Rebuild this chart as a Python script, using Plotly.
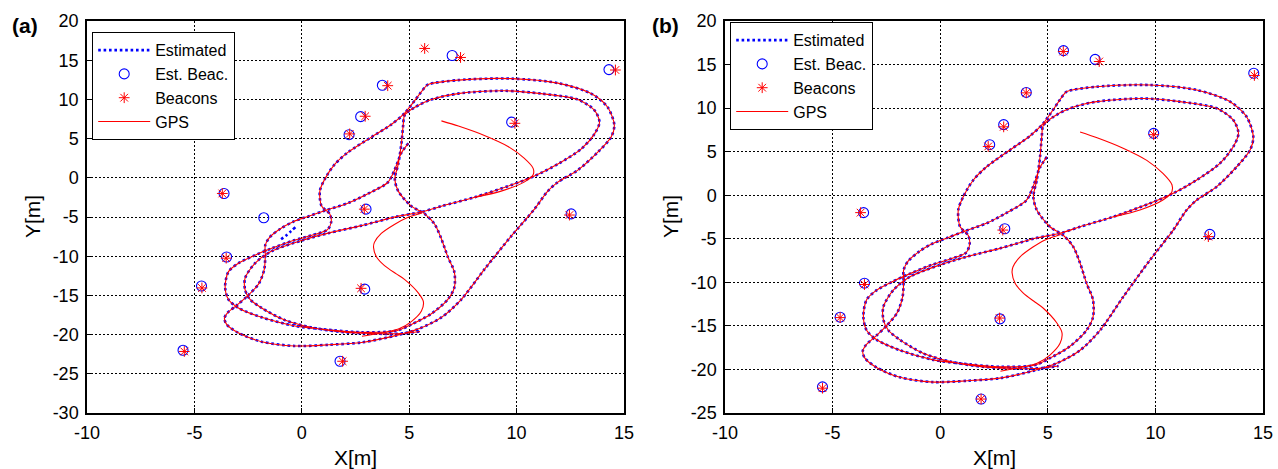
import plotly.graph_objects as go

# ---------------- data (metres) ----------------
# shared vehicle trajectory (estimated; GPS overlaps it)
path_x = [4.96, 4.64, 4.31, 4.0, 3.1, 2.17, 1.06, 0.32, -0.4, -1.0, -1.5, -1.7, -1.7, -1.75, -2.0, -2.5,
          -3.0, -3.45, -3.6, -3.5, -2.94, -1.87, -0.33, 1.25, 2.78, 4.41, 5.41, 6.5, 7.43, 8.51, 9.75,
          10.83, 11.45, 11.92, 12.85, 13.78, 14.4, 14.55, 14.24, 13.47, 11.92, 9.75, 7.27, 5.88, 5.72,
          4.79, 4.17, 3.24, 2.16, 1.54, 1.07, 0.84, 0.92, 1.3, 1.37, 1.2, 0.5, -0.4, -1.4, -2.2, -2.95,
          -3.42, -3.57, -3.42, -2.95, -1.87, -0.32, 0.92, 2.78, 4.41, 5.1, 6.0, 6.8, 7.1, 7.1, 6.8, 6.5,
          6.18, 5.72, 5.1, 4.49, 4.33, 4.49, 4.64, 4.72, 4.79, 5.26, 6.03, 7.27, 9.44, 11.14, 12.85,
          13.62, 13.86, 13.62, 13.0, 11.92, 10.83, 9.75, 8.05, 6.5, 5.57, 4.41, 2.78, 1.23, -0.01, -1.4,
          -2.18, -2.64, -2.64, -2.41, -1.87, -0.79, 0.46, 2.0, 4.41, 5.5]
path_y = [4.4, 3.2, 0.94, -0.6, -2.0, -3.2, -4.2, -4.9, -5.6, -6.5, -7.6, -8.6, -10.0, -11.7, -13.5, -15.0,
          -16.2, -17.2, -17.9, -18.7, -19.8, -20.9, -21.45, -21.3, -21.0, -20.1, -19.3, -17.8, -15.5, -11.65,
          -7.44, -4.0, -1.7, -0.55, 0.98, 3.27, 5.19, 6.72, 9.0, 10.74, 12.08, 12.65, 12.46, 11.9, 11.5,
          8.25, 6.8, 5.19, 3.27, 1.75, -0.17, -1.7, -3.6, -4.6, -5.6, -6.6, -7.3, -8.0, -9.0, -9.9, -10.9,
          -12.0, -13.9, -15.5, -16.6, -17.8, -18.9, -19.3, -19.7, -19.5, -18.7, -17.4, -15.5, -14.0, -12.0,
          -10.1, -7.8, -5.9, -4.6, -3.62, -1.7, -0.17, 1.75, 4.42, 6.72, 8.0, 9.0, 9.98, 10.74, 11.1,
          10.74, 9.98, 8.63, 7.1, 5.57, 3.66, 1.75, 0.22, -0.93, -2.47, -3.62, -4.37, -4.95, -6.1, -7.06,
          -8.0, -9.35, -10.9, -12.8, -14.3, -15.5, -16.6, -18.15, -19.1, -19.7, -19.9, -19.6]

# small extra estimated strokes visible only in panel (a)
est_extra_a_x = [-0.3, -0.5, -0.7, -1.0]
est_extra_a_y = [-6.3, -6.8, -7.3, -7.9]

# GPS-only portions
gps_start_x = [6.5, 7.29, 8.5, 9.6, 10.35, 10.77, 10.77, 10.35, 9.28, 8.05]
gps_start_y = [7.26, 6.6, 5.4, 4.0, 2.5, 1.2, 0.4, -0.55, -1.7, -2.5]
gps_mid_x = [5.6, 4.9, 4.31, 3.7, 3.38, 3.34, 3.48, 3.85, 4.4, 4.78, 5.43, 5.66, 5.57, 5.1, 4.5, 3.5, 2.8]
gps_mid_y = [-4.5, -5.1, -5.95, -7.1, -8.24, -8.9, -10.1, -11.2, -12.26, -12.95, -14.7, -15.8, -17.0,
             -18.35, -19.3, -19.9, -20.2]

# true beacon positions
beacons_x = [5.72, 7.39, 14.6, 4.0, 2.95, 2.23, 9.92, -3.7, 2.91, 12.46, -3.52, -4.65, 2.76, -5.47, 1.9]
beacons_y = [16.5, 15.35, 13.75, 11.75, 7.85, 5.6, 6.95, -2.0, -4.0, -4.75, -10.25, -14.05, -14.1, -22.15, -23.4]

# estimated beacons
est_beac_a_x = [7.0, 14.3, 3.75, 2.74, 2.2, 9.77, -3.62, 2.99, 12.54, -1.77, -3.5, -4.67, 2.93, -5.53, 1.78]
est_beac_a_y = [15.6, 13.8, 11.8, 7.8, 5.5, 7.1, -2.0, -4.0, -4.6, -5.1, -10.1, -13.8, -14.2, -22.0, -23.4]
est_beac_b_x = [5.73, 7.2, 14.57, 4.0, 2.95, 2.3, 9.92, -3.56, 3.0, 12.53, -3.52, -4.65, 2.78, -5.47, 1.9]
est_beac_b_y = [16.6, 15.6, 14.0, 11.8, 8.1, 5.8, 7.1, -2.0, -3.85, -4.5, -10.1, -14.0, -14.2, -22.0, -23.4]

x_ticks = [-10, -5, 0, 5, 10, 15]
y_ticks_a = [-30, -25, -20, -15, -10, -5, 0, 5, 10, 15, 20]
y_ticks_b = [-25, -20, -15, -10, -5, 0, 5, 10, 15, 20]

# ---------------- figure ----------------
W, H = 1278, 469
FONT = "Liberation Sans, Arial, sans-serif"
fig = go.Figure()

gps_x = path_x + [None] + gps_start_x + [None] + gps_mid_x
gps_y = path_y + [None] + gps_start_y + [None] + gps_mid_y

est_line = dict(color="#0000ff", width=2.6, dash="2.6px,2.8px", shape="spline", smoothing=0.8)

panels = [("x", "y", "legend", est_beac_a_x, est_beac_a_y,
           path_x + [None] + est_extra_a_x, path_y + [None] + est_extra_a_y),
          ("x2", "y2", "legend2", est_beac_b_x, est_beac_b_y, path_x, path_y)]
for xa, ya, lg, ebx, eby, ex, ey in panels:
    fig.add_trace(go.Scatter(x=ex, y=ey, mode="lines", name="Estimated", line=est_line,
                             connectgaps=False, xaxis=xa, yaxis=ya, legend=lg))
    fig.add_trace(go.Scatter(x=ebx, y=eby, mode="markers", name="Est. Beac.",
                             marker=dict(symbol="circle-open", size=10, color="#0000ff", line=dict(width=1.1)),
                             xaxis=xa, yaxis=ya, legend=lg))
    fig.add_trace(go.Scatter(x=beacons_x, y=beacons_y, mode="markers", name="Beacons",
                             marker=dict(symbol="asterisk-open", size=9, color="#ff0000",
                                         line=dict(color="#ff0000", width=1.0)),
                             xaxis=xa, yaxis=ya, legend=lg))
    fig.add_trace(go.Scatter(x=gps_x, y=gps_y, mode="lines", name="GPS",
                             line=dict(color="#ff0000", width=1.1, shape="spline", smoothing=0.8),
                             connectgaps=False, xaxis=xa, yaxis=ya, legend=lg))

def px_x(p):
    return p / W

def px_y(p):
    return 1 - p / H

axis_common = dict(showline=True, mirror=True, linecolor="black", linewidth=1.5,
                   ticks="inside", ticklen=5, tickcolor="black", tickwidth=1,
                   showgrid=True, gridcolor="black", gridwidth=1, griddash="2px,2px",
                   zeroline=False, automargin=False, ticklabelstandoff=3,
                   tickfont=dict(family=FONT, size=18, color="black"))

legend_common = dict(xanchor="left", yanchor="top", bordercolor="black", borderwidth=1.2,
                     bgcolor="white", font=dict(family=FONT, size=16, color="black"),
                     tracegroupgap=0, itemwidth=52)

fig.update_layout(
    width=W, height=H, margin=dict(l=0, r=0, t=0, b=0),
    paper_bgcolor="white", plot_bgcolor="white", showlegend=True,
    font=dict(family=FONT, color="black"),
    xaxis=dict(domain=[px_x(87), px_x(624)], range=[-10, 15], anchor="y",
               tickvals=x_ticks, ticktext=[str(v) for v in x_ticks], **axis_common),
    yaxis=dict(domain=[px_y(413), px_y(21)], range=[-30, 20], anchor="x",
               tickvals=y_ticks_a, ticktext=[str(v) for v in y_ticks_a], **axis_common),
    xaxis2=dict(domain=[px_x(725), px_x(1263)], range=[-10, 15], anchor="y2",
                tickvals=x_ticks, ticktext=[str(v) for v in x_ticks], **axis_common),
    yaxis2=dict(domain=[px_y(413), px_y(21)], range=[-25, 20], anchor="x2",
                tickvals=y_ticks_b, ticktext=[str(v) for v in y_ticks_b], **axis_common),
    legend=dict(x=px_x(92), y=px_y(32), **legend_common),
    legend2=dict(x=px_x(730), y=px_y(22), **legend_common),
)

ann = []
for txt, x, y in [("(a)", 25, 25), ("(b)", 665, 25)]:
    ann.append(dict(text="<b>%s</b>" % txt, x=px_x(x), y=px_y(y), xref="paper", yref="paper",
                    showarrow=False, xanchor="center", yanchor="middle",
                    font=dict(family=FONT, size=21, color="black")))
for x in [(87 + 624) / 2, (725 + 1263) / 2]:
    ann.append(dict(text="X[m]", x=px_x(x), y=px_y(457), xref="paper", yref="paper",
                    showarrow=False, xanchor="center", yanchor="middle",
                    font=dict(family=FONT, size=21, color="black")))
for x in [32, 670]:
    ann.append(dict(text="Y[m]", x=px_x(x), y=px_y(217), xref="paper", yref="paper",
                    showarrow=False, xanchor="center", yanchor="middle", textangle=-90,
                    font=dict(family=FONT, size=21, color="black")))
fig.update_layout(annotations=ann)

fig.write_html("out.html")
